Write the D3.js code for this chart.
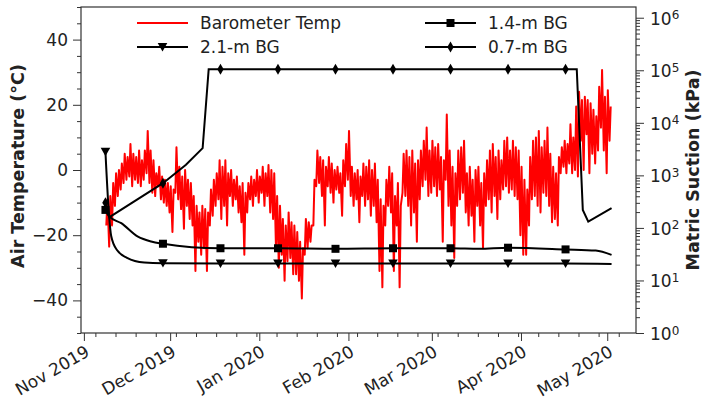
<!DOCTYPE html>
<html>
<head>
<meta charset="utf-8">
<script src="https://cdn.jsdelivr.net/npm/d3@7"></script>
<style>
body { margin: 0; background: #fff; }
svg text { font-family: "DejaVu Sans", sans-serif; fill: #222; }
</style>
</head>
<body>
<svg id="chart" width="704" height="405"></svg>
<script>
// barometer temperature, one daytime high and one night low per day (°C)
// first entry is 8 days after Nov 1 2019
const tempFirstDay = 8;
const tempHigh = [
  -9, -8, -4, -1, 0, 2, 5, 4, 8, 5, 4, 6, 3, 6, 12, 6, 3, -1, 1, -2, -3, -4, -5, -6, 7, 1, -2, 0, -3,
  -4, -8, -11, -13, -11, -12, -13, -6, -3, -1, 3, 1, 3, -1, 0, -3, -2, -5, -4, -7, -4, -2, -3, 0, -2, 1, -1, 1.5, 0, -1, -8, -11, -15, -17, -13, -16, -17,
  -19, -22, -24, -15, -16, -17, -3, 6, 4, 3, 1, 4, 2, 0, 1, -1, 3, 8, 12, 1, -1, 0, -2, 2, 1, 3, 0, 2, -3, -9, -11, -3, 1, -1, -8, -4, -11, 5,
  6, 4, 6, 2, 3, 6, 9, 13, 6, 9, 7, 8, 4, 3, 17, 6, 1, -1, 6, 7, 9, -1, 1, -3, 0, 1, -4, -1, 3, 6, 8, 4, 6, 3, 9, 10, 6,
  9, 7, 6, 1, -3, -6, 4, 9, 10, 12, 7, 9, 13, 5, 1, -1, 4, 7, 9, 8, 14, 10, 19.5, 24, 21.5, 22.5, 21.5, 20.5, 18.5, 16.5, 25.5, 30.7, 22.5, 24.5, 19.5
];
const tempLow = [
  -17, -23.5, -17, -11, -8, -6, -4, -3, -2, -5, -3, -4, -5, -3, -1, -4, -7, -8, -5, -9, -10, -11, -13, -19, -7, -9, -12, -18, -11,
  -15, -17, -31, -22, -26, -24, -31, -17, -14, -11, -9, -15, -11, -17, -8, -11, -9, -13, -16, -26, -13, -9, -11, -8, -10, -7, -11, -8, -13, -15, -24, -30, -26, -34, -28, -27, -32,
  -32, -34, -39.4, -26, -24, -22, -17, -5, -4, -8, -17, -5, -7, -10, -6, -7, -14, -5, -3, -8, -11, -9, -16, -8, -11, -9, -14, -11, -16, -31, -36, -17, -11, -13, -31, -17, -36, -7,
  -8, -11, -17, -13, -22, -9, -5, -3, -8, -7, -5, -8, -6, -22, -3, -11, -17, -27, -11, -9, -7, -13, -17, -14, -22, -11, -17, -24, -11, -9, -13, -8, -15, -9, -6, -5, -7,
  -6, -8, -9, -20, -26, -26, -17, -9, -8, -11, -13, -7, -8, -11, -16, -15, -17, -1, 1, -1, 2, -1, 0, -2, 9, 0, 11, -1, 5, 2, 6, 13, 6, -1, 9
];

// matric suction (kPa), days after Nov 1 2019
const bg21Days = [7.5, 8.7, 9.5, 11.5, 15, 21, 27.5, 47.5, 67.5, 87.5, 107.5, 127.5, 147.5, 167.5, 183.5];
const bg21Kpa  = [2800, 190, 70, 38, 27, 22, 21.3, 21, 21, 21, 21, 21, 21, 21, 20.6];
const bg14Days = [7.5, 8.9, 13, 18.8, 23.4, 27.5, 47.5, 67.5, 87.5, 107.5, 127.5, 137.5, 147.5, 167.5, 178, 183.5];
const bg14Kpa  = [220, 164, 123, 68, 55, 50, 41, 41, 40, 41, 41, 40, 42, 39, 37, 30.6];
const bg07Days = [7.5, 8.9, 27.5, 35.5, 41.3, 43.4, 47.5, 67.5, 87.5, 107.5, 127.5, 147.5, 167.5, 171.4, 173.5, 175.4, 183.5];
const bg07Kpa  = [300, 160, 710, 1590, 3300, 105000, 105000, 105000, 105000, 105000, 105000, 105000, 105000, 105000, 220, 132, 237];
const markerEvery = 20;

const tempTicks = [-40, -20, 0, 20, 40];
const suctionTicks = [0, 1, 2, 3, 4, 5, 6];

const dayMs = 864e5;
const origin = Date.UTC(2019, 10, 1);
const day = d => new Date(origin + d * dayMs);

const svg = d3.select('#chart');
const pLeft = 81, pRight = 636, pTop = 7, pBottom = 333;
const fs = 17;

const x = d3.scaleUtc().domain([day(-1), day(192)]).range([pLeft, pRight]);
const yT = d3.scaleLinear().domain([-50, 50]).range([pBottom, pTop]);
const yS = d3.scaleLog().domain([1, 1.6e6]).range([pBottom, pTop]);

svg.append('defs').append('clipPath').attr('id', 'plot')
  .append('rect').attr('x', pLeft).attr('y', pTop).attr('width', pRight - pLeft).attr('height', pBottom - pTop);

// axes
function styleAxis(g) {
  g.select('.domain').remove();
  g.selectAll('.tick line').attr('stroke', '#333').attr('stroke-width', 1);
  g.selectAll('.tick text').attr('font-size', fs).attr('fill', '#222').attr('font-family', 'DejaVu Sans');
}

const minorT = d3.range(-50, 51, 5).filter(v => !tempTicks.includes(v));
svg.append('g').attr('transform', `translate(${pLeft},0)`)
  .call(d3.axisLeft(yT).tickValues(minorT).tickSize(4).tickFormat(''))
  .call(styleAxis);
svg.append('g').attr('transform', `translate(${pLeft},0)`)
  .call(d3.axisLeft(yT).tickValues(tempTicks).tickSize(8).tickPadding(5))
  .call(styleAxis);

const minorS = [];
suctionTicks.forEach(p => { for (let k = 2; k <= 9; k++) { const v = k * Math.pow(10, p); if (v < 1.6e6) minorS.push(v); } });
svg.append('g').attr('transform', `translate(${pRight},0)`)
  .call(d3.axisRight(yS).tickValues(minorS).tickSize(4).tickFormat(''))
  .call(styleAxis);
const rAxis = svg.append('g').attr('transform', `translate(${pRight},0)`)
  .call(d3.axisRight(yS).tickValues(suctionTicks.map(p => Math.pow(10, p))).tickSize(8).tickFormat(''))
  .call(styleAxis);
rAxis.selectAll('.tick').each(function(d) {
  const t = d3.select(this).append('text').attr('x', 14).attr('dy', '0.38em')
    .attr('font-size', fs).attr('text-anchor', 'start');
  t.append('tspan').text('10');
  t.append('tspan').attr('dy', '-0.45em').attr('font-size', 12).text(Math.round(Math.log10(d)));
});

const months = d3.utcMonth.range(day(-1), day(192));
svg.append('g').attr('transform', `translate(0,${pBottom})`)
  .call(d3.axisBottom(x).tickValues(d3.utcTuesday.range(day(-1), day(192))).tickSize(4).tickFormat(''))
  .call(styleAxis);
const xAxis = svg.append('g').attr('transform', `translate(0,${pBottom})`)
  .call(d3.axisBottom(x).tickValues(months).tickSize(8).tickFormat(''))
  .call(styleAxis);
xAxis.selectAll('.tick').append('g')
  .attr('transform', 'translate(0,11) rotate(-30)')
  .append('text').attr('text-anchor', 'end').attr('dy', '0.75em')
  .attr('font-size', fs).attr('fill', '#222')
  .text(d => d3.utcFormat('%b %Y')(d));

// frame
svg.append('rect').attr('x', pLeft).attr('y', pTop).attr('width', pRight - pLeft).attr('height', pBottom - pTop)
  .attr('fill', 'none').attr('stroke', '#333').attr('stroke-width', 1.2);

// axis titles
svg.append('text').attr('transform', `translate(24,${(pTop + pBottom) / 2 - 4}) rotate(-90)`)
  .attr('text-anchor', 'middle').attr('font-size', 17.5).attr('font-weight', 'bold')
  .text('Air Temperature (°C)');
svg.append('text').attr('transform', `translate(699,${(pTop + pBottom) / 2}) rotate(-90)`)
  .attr('text-anchor', 'middle').attr('font-size', 17.5).attr('font-weight', 'bold')
  .text('Matric Suction (kPa)');

const plot = svg.append('g').attr('clip-path', 'url(#plot)');

// temperature series
const tempPts = [];
tempHigh.forEach((hi, i) => {
  const d = tempFirstDay + i;
  tempPts.push({ t: day(d - 0.2), v: tempLow[i] });
  tempPts.push({ t: day(d + 0.2), v: hi });
});
plot.append('path').datum(tempPts)
  .attr('fill', 'none').attr('stroke', '#ff0000').attr('stroke-width', 2).attr('stroke-linejoin', 'round')
  .attr('d', d3.line().x(p => x(p.t)).y(p => yT(p.v)));

// marker shapes
const markers = {
  tri: 'M-4.8,-4 L4.8,-4 L0,4.4 Z',
  sq: 'M-4,-4 L4,-4 L4,4 L-4,4 Z',
  dia: 'M0,-5.5 L3.2,0 L0,5.5 L-3.2,0 Z'
};

function drawBG(days, kpa, mk, curve) {
  const pts = days.map((d, i) => ({ t: day(d), v: kpa[i], d }));
  plot.append('path').datum(pts)
    .attr('fill', 'none').attr('stroke', '#000').attr('stroke-width', 2)
    .attr('d', d3.line().curve(curve).x(p => x(p.t)).y(p => yS(p.v)));
  plot.selectAll(null).data(pts.filter(p => Math.abs(((p.d - days[0]) % markerEvery)) < 1e-6))
    .enter().append('path')
    .attr('transform', p => `translate(${x(p.t)},${yS(p.v)})`)
    .attr('d', markers[mk]).attr('fill', '#000');
}
drawBG(bg21Days, bg21Kpa, 'tri', d3.curveMonotoneX);
drawBG(bg14Days, bg14Kpa, 'sq', d3.curveMonotoneX);
drawBG(bg07Days, bg07Kpa, 'dia', d3.curveLinear);

// legend
const legendItems = [
  { label: 'Barometer Temp', color: '#ff0000', mk: null, col: 0, row: 0 },
  { label: '2.1-m BG', color: '#000', mk: 'tri', col: 0, row: 1 },
  { label: '1.4-m BG', color: '#000', mk: 'sq', col: 1, row: 0 },
  { label: '0.7-m BG', color: '#000', mk: 'dia', col: 1, row: 1 }
];
const colX = [137, 425];
const leg = svg.append('g');
legendItems.forEach(it => {
  const lx = colX[it.col], ly = 23 + it.row * 24;
  leg.append('line').attr('x1', lx).attr('x2', lx + 51).attr('y1', ly).attr('y2', ly)
    .attr('stroke', it.color).attr('stroke-width', 2);
  if (it.mk) leg.append('path').attr('transform', `translate(${lx + 25.5},${ly})`).attr('d', markers[it.mk]).attr('fill', '#000');
  leg.append('text').attr('x', lx + 63).attr('y', ly).attr('dy', '0.36em')
    .attr('font-size', fs).text(it.label);
});
</script>
</body>
</html>
